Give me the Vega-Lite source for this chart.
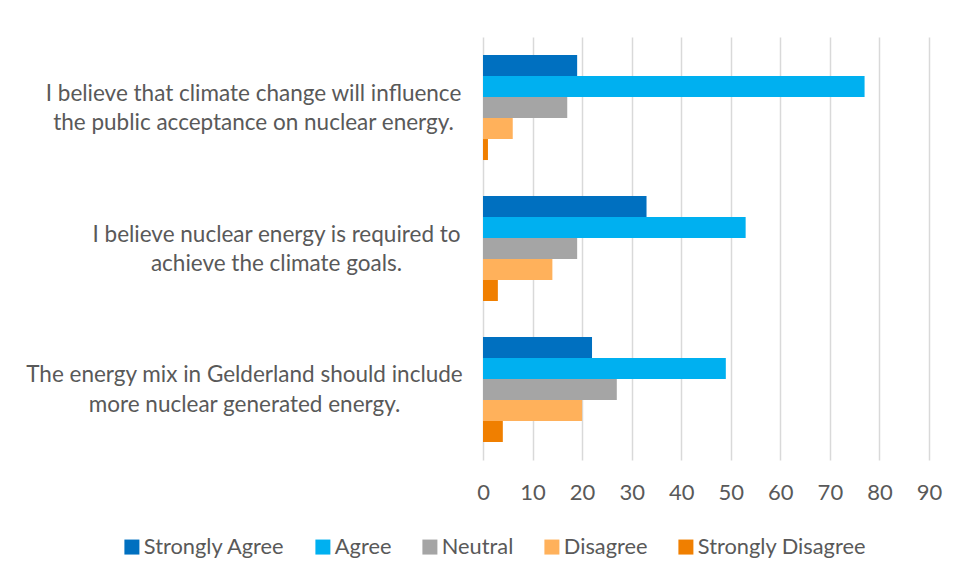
{
  "$schema": "https://vega.github.io/schema/vega-lite/v6.json",
  "width": 446,
  "height": 423,
  "autosize": {"type": "none"},
  "padding": {"left": 483, "top": 37, "right": 29, "bottom": 120},
  "background": "white",
  "data": {
    "values": [
      {"q": "I believe that climate change will influence|the public acceptance on nuclear energy.", "response": "Strongly Agree", "value": 19},
      {"q": "I believe that climate change will influence|the public acceptance on nuclear energy.", "response": "Agree", "value": 77},
      {"q": "I believe that climate change will influence|the public acceptance on nuclear energy.", "response": "Neutral", "value": 17},
      {"q": "I believe that climate change will influence|the public acceptance on nuclear energy.", "response": "Disagree", "value": 6},
      {"q": "I believe that climate change will influence|the public acceptance on nuclear energy.", "response": "Strongly Disagree", "value": 1},
      {"q": "I believe nuclear energy is required to|achieve the climate goals.", "response": "Strongly Agree", "value": 33},
      {"q": "I believe nuclear energy is required to|achieve the climate goals.", "response": "Agree", "value": 53},
      {"q": "I believe nuclear energy is required to|achieve the climate goals.", "response": "Neutral", "value": 19},
      {"q": "I believe nuclear energy is required to|achieve the climate goals.", "response": "Disagree", "value": 14},
      {"q": "I believe nuclear energy is required to|achieve the climate goals.", "response": "Strongly Disagree", "value": 3},
      {"q": "The energy mix in Gelderland should include|more nuclear generated energy.", "response": "Strongly Agree", "value": 22},
      {"q": "The energy mix in Gelderland should include|more nuclear generated energy.", "response": "Agree", "value": 49},
      {"q": "The energy mix in Gelderland should include|more nuclear generated energy.", "response": "Neutral", "value": 27},
      {"q": "The energy mix in Gelderland should include|more nuclear generated energy.", "response": "Disagree", "value": 20},
      {"q": "The energy mix in Gelderland should include|more nuclear generated energy.", "response": "Strongly Disagree", "value": 4}
    ]
  },
  "mark": {"type": "bar"},
  "encoding": {
    "y": {
      "field": "q",
      "type": "nominal",
      "sort": null,
      "scale": {"paddingInner": 0.255, "paddingOuter": 0.1277},
      "axis": {
        "title": null,
        "labelExpr": "split(datum.label, '|')",
        "labelAlign": "center",
        "labelLimit": 600,
        "labelPadding": {
          "condition": [
            {"test": "indexof(datum.value, 'climate change') >= 0", "value": 230},
            {"test": "indexof(datum.value, 'required') >= 0", "value": 207}
          ],
          "value": 239
        },
        "labelOffset": -14,
        "labelLineHeight": 29.5,
        "labelFontSize": 22.5,
        "labelFont": "Lato",
        "labelColor": "#595959",
        "ticks": false,
        "domain": false
      }
    },
    "yOffset": {
      "field": "response",
      "type": "nominal",
      "sort": ["Strongly Agree", "Agree", "Neutral", "Disagree", "Strongly Disagree"],
      "scale": {"paddingInner": 0, "paddingOuter": 0}
    },
    "x": {
      "field": "value",
      "type": "quantitative",
      "scale": {"domain": [0, 90], "nice": false},
      "axis": {
        "title": null,
        "values": [0, 10, 20, 30, 40, 50, 60, 70, 80, 90],
        "grid": true,
        "gridColor": "#D9D9D9",
        "gridWidth": 1.5,
        "domain": false,
        "ticks": false,
        "tickSize": 0,
        "labelFlush": false,
        "labelOverlap": false,
        "labelPadding": 22,
        "labelFontSize": 22,
        "labelFont": "Lato",
        "labelColor": "#595959"
      }
    },
    "color": {
      "field": "response",
      "type": "nominal",
      "sort": ["Strongly Agree", "Agree", "Neutral", "Disagree", "Strongly Disagree"],
      "scale": {
        "domain": ["Strongly Agree", "Agree", "Neutral", "Disagree", "Strongly Disagree"],
        "range": ["#0070C0", "#00B0F0", "#A5A5A5", "#FFB15B", "#F07F00"]
      },
      "legend": {
        "title": null,
        "orient": "none",
        "direction": "horizontal",
        "legendX": -362,
        "legendY": 499,
        "symbolType": "square",
        "symbolSize": 225,
        "symbolStrokeWidth": 0,
        "symbolOpacity": 1,
        "labelFontSize": 21.8,
        "labelFont": "Lato",
        "labelColor": "#595959",
        "labelLimit": 400,
        "labelOffset": 1,
        "columnPadding": 27,
        "padding": 0
      }
    }
  },
  "config": {
    "view": {"stroke": null},
    "font": "Lato"
  }
}
